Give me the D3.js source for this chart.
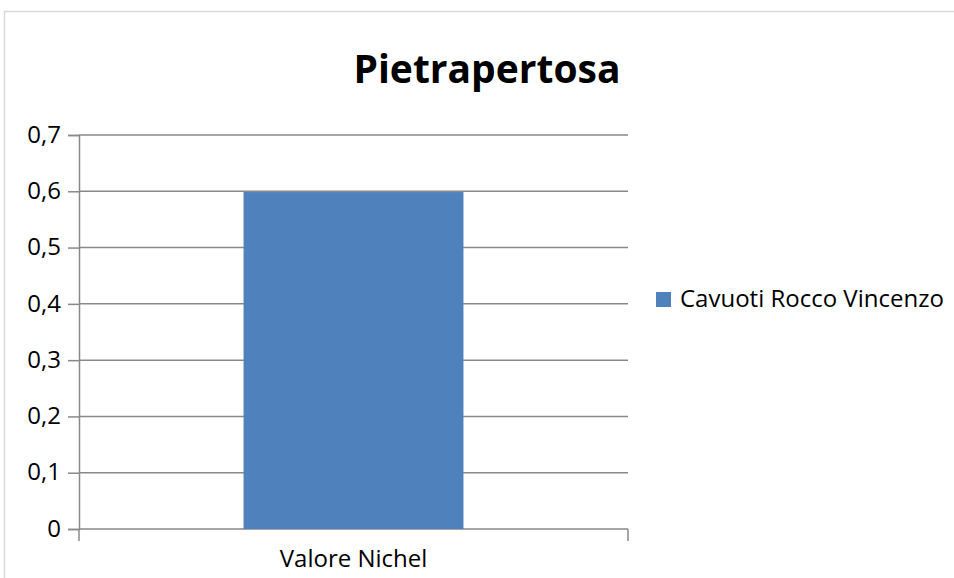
<!DOCTYPE html>
<html>
<head>
<meta charset="utf-8">
<script src="https://cdn.jsdelivr.net/npm/d3@7/dist/d3.min.js"></script>
<style>
  html, body { margin: 0; padding: 0; background: #fff; }
  svg { display: block; font-family: "Open Sans", sans-serif; }
</style>
</head>
<body>
<div id="chart"></div>
<script>
// Chart data
const title = 'Pietrapertosa';
const categories = ['Valore Nichel'];
const seriesName = 'Cavuoti Rocco Vincenzo';
const seriesValues = [0.6];
const yTicks = [0, 0.1, 0.2, 0.3, 0.4, 0.5, 0.6, 0.7];

const width = 954, height = 578;
const margin = { left: 79, right: 954 - 628, top: 135, bottom: 578 - 529 };

const itLocale = d3.formatLocale({ decimal: ',', thousands: '.', grouping: [3], currency: ['', '€'] });
const fmt = v => v === 0 ? '0' : itLocale.format('.1f')(v);

const svg = d3.select('#chart').append('svg')
  .attr('width', width)
  .attr('height', height);

// chart area frame (only top/left visible in the shot)
svg.append('rect')
  .attr('x', 4.5).attr('y', 11.5)
  .attr('width', width + 10).attr('height', height + 10)
  .attr('fill', 'none')
  .attr('stroke', '#d9d9d9')
  .attr('stroke-width', 1.5);

const x = d3.scaleBand()
  .domain(categories)
  .range([margin.left, width - margin.right])
  .paddingInner(0.428)
  .paddingOuter(0.428);

const y = d3.scaleLinear()
  .domain([0, 0.7])
  .range([height - margin.bottom, margin.top]);

// horizontal gridlines
svg.append('g')
  .selectAll('line')
  .data(yTicks)
  .join('line')
  .attr('x1', margin.left).attr('x2', width - margin.right)
  .attr('y1', d => y(d)).attr('y2', d => y(d))
  .attr('stroke', '#898989')
  .attr('stroke-width', 1.5);

// bars
svg.append('g')
  .selectAll('rect')
  .data(categories.map((c, i) => ({ c, v: seriesValues[i] })))
  .join('rect')
  .attr('x', d => x(d.c))
  .attr('width', x.bandwidth())
  .attr('y', d => y(d.v) + 0.75)
  .attr('height', d => y(0) - y(d.v) - 0.75)
  .attr('fill', '#4f81bd');

// y axis
const yAxis = svg.append('g')
  .attr('transform', `translate(${margin.left},0)`)
  .call(d3.axisLeft(y).tickValues(yTicks).tickFormat(fmt).tickSize(11).tickPadding(7));
yAxis.select('.domain').attr('stroke', '#898989').attr('stroke-width', 1.5);
yAxis.selectAll('.tick line').attr('stroke', '#898989').attr('stroke-width', 1.5);
yAxis.selectAll('.tick text')
  .attr('font-family', '"Open Sans", sans-serif')
  .attr('font-size', 24)
  .attr('dy', '0.3em')
  .attr('fill', '#000');

// x axis
const xAxis = svg.append('g')
  .attr('transform', `translate(0,${y(0)})`)
  .call(d3.axisBottom(x).tickSize(0).tickPadding(21));
xAxis.select('.domain').remove();
xAxis.selectAll('.tick text')
  .attr('font-family', '"Open Sans", sans-serif')
  .attr('font-size', 24)
  .attr('fill', '#000');
// category boundary ticks at both ends
xAxis.selectAll('.edge')
  .data(x.range())
  .join('line')
  .attr('class', 'edge')
  .attr('x1', d => d).attr('x2', d => d)
  .attr('y1', 0).attr('y2', 12)
  .attr('stroke', '#898989')
  .attr('stroke-width', 1.5);

// title
svg.append('text')
  .attr('x', 487)
  .attr('y', 83)
  .attr('text-anchor', 'middle')
  .attr('font-size', 39)
  .attr('font-weight', 'bold')
  .attr('fill', '#000')
  .text(title);

// legend
const legend = svg.append('g').attr('transform', 'translate(656,292)');
legend.append('rect')
  .attr('width', 15).attr('height', 15)
  .attr('fill', '#4f81bd');
legend.append('text')
  .attr('x', 24).attr('y', 15)
  .attr('font-size', 24)
  .attr('fill', '#000')
  .text(seriesName);
</script>
</body>
</html>
